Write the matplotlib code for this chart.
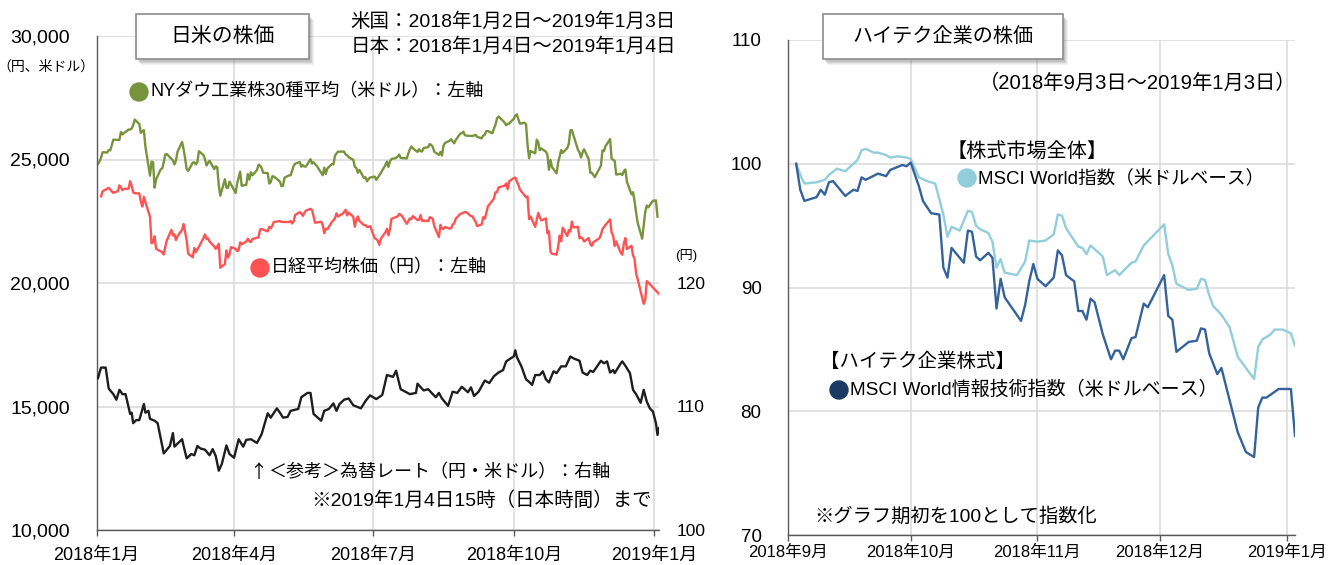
import matplotlib
matplotlib.use("Agg")
import matplotlib.pyplot as plt
from matplotlib.patches import Rectangle, Circle
from matplotlib.ticker import FuncFormatter
import pandas as pd

plt.rcParams['font.family'] = ['Liberation Sans', 'Noto Sans CJK JP']

# ------------------------------
# data: left panel (2018/1 - 2019/1)
# ------------------------------
dow_dates = [
    "2018-01-02", "2018-01-03", "2018-01-04", "2018-01-05", "2018-01-08", "2018-01-09", "2018-01-10", "2018-01-11", "2018-01-12", "2018-01-16", "2018-01-17", "2018-01-18", "2018-01-19", "2018-01-22", "2018-01-23", "2018-01-24", "2018-01-25", "2018-01-26", "2018-01-29", "2018-01-30", "2018-01-31",
    "2018-02-01", "2018-02-02", "2018-02-05", "2018-02-06", "2018-02-07", "2018-02-08", "2018-02-09", "2018-02-12", "2018-02-13", "2018-02-14", "2018-02-15", "2018-02-16", "2018-02-20", "2018-02-21", "2018-02-22", "2018-02-23", "2018-02-26", "2018-02-27", "2018-02-28",
    "2018-03-01", "2018-03-02", "2018-03-05", "2018-03-06", "2018-03-07", "2018-03-08", "2018-03-09", "2018-03-12", "2018-03-13", "2018-03-14", "2018-03-15", "2018-03-16", "2018-03-19", "2018-03-20", "2018-03-21", "2018-03-22", "2018-03-23", "2018-03-26", "2018-03-27", "2018-03-28", "2018-03-29",
    "2018-04-02", "2018-04-03", "2018-04-04", "2018-04-05", "2018-04-06", "2018-04-09", "2018-04-10", "2018-04-11", "2018-04-12", "2018-04-13", "2018-04-16", "2018-04-17", "2018-04-18", "2018-04-19", "2018-04-20", "2018-04-23", "2018-04-24", "2018-04-25", "2018-04-26", "2018-04-27", "2018-04-30",
    "2018-05-01", "2018-05-02", "2018-05-03", "2018-05-04", "2018-05-07", "2018-05-08", "2018-05-09", "2018-05-10", "2018-05-11", "2018-05-14", "2018-05-15", "2018-05-16", "2018-05-17", "2018-05-18", "2018-05-21", "2018-05-22", "2018-05-23", "2018-05-24", "2018-05-25", "2018-05-29", "2018-05-30", "2018-05-31",
    "2018-06-01", "2018-06-04", "2018-06-05", "2018-06-06", "2018-06-07", "2018-06-08", "2018-06-11", "2018-06-12", "2018-06-13", "2018-06-14", "2018-06-15", "2018-06-18", "2018-06-19", "2018-06-20", "2018-06-21", "2018-06-22", "2018-06-25", "2018-06-26", "2018-06-27", "2018-06-28", "2018-06-29",
    "2018-07-02", "2018-07-03", "2018-07-05", "2018-07-06", "2018-07-09", "2018-07-10", "2018-07-11", "2018-07-12", "2018-07-13", "2018-07-16", "2018-07-17", "2018-07-18", "2018-07-19", "2018-07-20", "2018-07-23", "2018-07-24", "2018-07-25", "2018-07-26", "2018-07-27", "2018-07-30", "2018-07-31",
    "2018-08-01", "2018-08-02", "2018-08-03", "2018-08-06", "2018-08-07", "2018-08-08", "2018-08-09", "2018-08-10", "2018-08-13", "2018-08-14", "2018-08-15", "2018-08-16", "2018-08-17", "2018-08-20", "2018-08-21", "2018-08-22", "2018-08-23", "2018-08-24", "2018-08-27", "2018-08-28", "2018-08-29", "2018-08-30", "2018-08-31",
    "2018-09-04", "2018-09-05", "2018-09-06", "2018-09-07", "2018-09-10", "2018-09-11", "2018-09-12", "2018-09-13", "2018-09-14", "2018-09-17", "2018-09-18", "2018-09-19", "2018-09-20", "2018-09-21", "2018-09-24", "2018-09-25", "2018-09-26", "2018-09-27", "2018-09-28",
    "2018-10-01", "2018-10-02", "2018-10-03", "2018-10-04", "2018-10-05", "2018-10-08", "2018-10-09", "2018-10-10", "2018-10-11", "2018-10-12", "2018-10-15", "2018-10-16", "2018-10-17", "2018-10-18", "2018-10-19", "2018-10-22", "2018-10-23", "2018-10-24", "2018-10-25", "2018-10-26", "2018-10-29", "2018-10-30", "2018-10-31",
    "2018-11-01", "2018-11-02", "2018-11-05", "2018-11-06", "2018-11-07", "2018-11-08", "2018-11-09", "2018-11-12", "2018-11-13", "2018-11-14", "2018-11-15", "2018-11-16", "2018-11-19", "2018-11-20", "2018-11-21", "2018-11-23", "2018-11-26", "2018-11-27", "2018-11-28", "2018-11-29", "2018-11-30",
    "2018-12-03", "2018-12-04", "2018-12-06", "2018-12-07", "2018-12-10", "2018-12-11", "2018-12-12", "2018-12-13", "2018-12-14", "2018-12-17", "2018-12-18", "2018-12-19", "2018-12-20", "2018-12-21", "2018-12-24", "2018-12-26", "2018-12-27", "2018-12-28", "2018-12-31",
    "2019-01-02", "2019-01-03",
]
dow_values = [
    24824, 24922, 25075, 25295, 25283, 25385, 25369, 25574, 25803, 25792, 26116, 26017, 26071, 26214, 26210, 26252, 26392, 26617, 26439, 26076, 26149,
    26186, 25521, 24346, 24913, 24893, 23860, 24191, 24601, 24640, 24893, 25201, 25219, 24965, 24798, 24963, 25310, 25710, 25410, 25029,
    24608, 24539, 24875, 24885, 24801, 24896, 25336, 25179, 25008, 24759, 24873, 24947, 24611, 24727, 24683, 23958, 23533, 24203, 23858, 23849, 24103,
    23644, 24034, 24265, 24505, 23933, 23980, 24408, 24190, 24484, 24361, 24573, 24787, 24749, 24665, 24463, 24448, 24025, 24084, 24323, 24311, 24163,
    24100, 23925, 23930, 24263, 24358, 24361, 24543, 24740, 24831, 24900, 24707, 24769, 24714, 24715, 25013, 24835, 24887, 24812, 24753, 24362, 24668, 24416,
    24635, 24814, 24799, 25146, 25241, 25317, 25322, 25320, 25201, 25175, 25090, 24988, 24700, 24657, 24461, 24580, 24252, 24283, 24117, 24216, 24271,
    24307, 24174, 24356, 24456, 24776, 24920, 24700, 24924, 25019, 25064, 25120, 25199, 25065, 25058, 25044, 25241, 25415, 25527, 25451, 25307, 25415,
    25333, 25327, 25463, 25502, 25629, 25584, 25509, 25313, 25188, 25300, 25162, 25559, 25669, 25759, 25822, 25733, 25656, 25790, 26050, 26064, 26125, 25987, 25965,
    25952, 25975, 25996, 25917, 25857, 25971, 25999, 26145, 26155, 26062, 26247, 26405, 26657, 26744, 26562, 26492, 26385, 26440, 26458,
    26651, 26774, 26828, 26627, 26447, 26487, 26430, 25599, 25053, 25340, 25250, 25798, 25707, 25380, 25444, 25317, 25191, 24583, 24985, 24689, 24443, 24875, 25116,
    25381, 25270, 25462, 25635, 26181, 26191, 25989, 25388, 25287, 25081, 25290, 25413, 25018, 24466, 24465, 24286, 24640, 24749, 25366, 25339, 25538,
    25826, 25027, 24947, 24389, 24423, 24370, 24528, 24597, 24100, 23593, 23676, 23324, 22860, 22445, 21792, 22878, 23138, 23062, 23327,
    23346, 22686,
]

nikkei_dates = [
    "2018-01-04", "2018-01-05", "2018-01-09", "2018-01-10", "2018-01-11", "2018-01-12", "2018-01-15", "2018-01-16", "2018-01-17", "2018-01-18", "2018-01-19", "2018-01-22", "2018-01-23", "2018-01-24", "2018-01-25", "2018-01-26", "2018-01-29", "2018-01-30", "2018-01-31",
    "2018-02-01", "2018-02-02", "2018-02-05", "2018-02-06", "2018-02-07", "2018-02-08", "2018-02-09", "2018-02-13", "2018-02-14", "2018-02-15", "2018-02-16", "2018-02-19", "2018-02-20", "2018-02-21", "2018-02-22", "2018-02-23", "2018-02-26", "2018-02-27", "2018-02-28",
    "2018-03-01", "2018-03-02", "2018-03-05", "2018-03-06", "2018-03-07", "2018-03-08", "2018-03-09", "2018-03-12", "2018-03-13", "2018-03-14", "2018-03-15", "2018-03-16", "2018-03-19", "2018-03-20", "2018-03-22", "2018-03-23", "2018-03-26", "2018-03-27", "2018-03-28", "2018-03-29", "2018-03-30",
    "2018-04-02", "2018-04-03", "2018-04-04", "2018-04-05", "2018-04-06", "2018-04-09", "2018-04-10", "2018-04-11", "2018-04-12", "2018-04-13", "2018-04-16", "2018-04-17", "2018-04-18", "2018-04-19", "2018-04-20", "2018-04-23", "2018-04-24", "2018-04-25", "2018-04-26", "2018-04-27",
    "2018-05-01", "2018-05-02", "2018-05-07", "2018-05-08", "2018-05-09", "2018-05-10", "2018-05-11", "2018-05-14", "2018-05-15", "2018-05-16", "2018-05-17", "2018-05-18", "2018-05-21", "2018-05-22", "2018-05-23", "2018-05-24", "2018-05-25", "2018-05-28", "2018-05-29", "2018-05-30", "2018-05-31",
    "2018-06-01", "2018-06-04", "2018-06-05", "2018-06-06", "2018-06-07", "2018-06-08", "2018-06-11", "2018-06-12", "2018-06-13", "2018-06-14", "2018-06-15", "2018-06-18", "2018-06-19", "2018-06-20", "2018-06-21", "2018-06-22", "2018-06-25", "2018-06-26", "2018-06-27", "2018-06-28", "2018-06-29",
    "2018-07-02", "2018-07-03", "2018-07-04", "2018-07-05", "2018-07-06", "2018-07-09", "2018-07-10", "2018-07-11", "2018-07-12", "2018-07-13", "2018-07-17", "2018-07-18", "2018-07-19", "2018-07-20", "2018-07-23", "2018-07-24", "2018-07-25", "2018-07-26", "2018-07-27", "2018-07-30", "2018-07-31",
    "2018-08-01", "2018-08-02", "2018-08-03", "2018-08-06", "2018-08-07", "2018-08-08", "2018-08-09", "2018-08-10", "2018-08-13", "2018-08-14", "2018-08-15", "2018-08-16", "2018-08-17", "2018-08-20", "2018-08-21", "2018-08-22", "2018-08-23", "2018-08-24", "2018-08-27", "2018-08-28", "2018-08-29", "2018-08-30", "2018-08-31",
    "2018-09-03", "2018-09-04", "2018-09-05", "2018-09-06", "2018-09-07", "2018-09-10", "2018-09-11", "2018-09-12", "2018-09-13", "2018-09-14", "2018-09-18", "2018-09-19", "2018-09-20", "2018-09-21", "2018-09-25", "2018-09-26", "2018-09-27", "2018-09-28",
    "2018-10-01", "2018-10-02", "2018-10-03", "2018-10-04", "2018-10-05", "2018-10-09", "2018-10-10", "2018-10-11", "2018-10-12", "2018-10-15", "2018-10-16", "2018-10-17", "2018-10-18", "2018-10-19", "2018-10-22", "2018-10-23", "2018-10-24", "2018-10-25", "2018-10-26", "2018-10-29", "2018-10-30", "2018-10-31",
    "2018-11-01", "2018-11-02", "2018-11-05", "2018-11-06", "2018-11-07", "2018-11-08", "2018-11-09", "2018-11-12", "2018-11-13", "2018-11-14", "2018-11-15", "2018-11-16", "2018-11-19", "2018-11-20", "2018-11-21", "2018-11-22", "2018-11-26", "2018-11-27", "2018-11-28", "2018-11-29", "2018-11-30",
    "2018-12-03", "2018-12-04", "2018-12-05", "2018-12-06", "2018-12-07", "2018-12-10", "2018-12-11", "2018-12-12", "2018-12-13", "2018-12-14", "2018-12-17", "2018-12-18", "2018-12-19", "2018-12-20", "2018-12-21", "2018-12-25", "2018-12-26", "2018-12-27", "2018-12-28",
    "2019-01-04",
]
nikkei_values = [
    23506, 23714, 23850, 23788, 23710, 23653, 23714, 23952, 23868, 23763, 23808, 23816, 24124, 23940, 23669, 23631, 23629, 23291, 23098,
    23486, 23274, 22682, 21610, 21645, 21891, 21383, 21245, 21154, 21464, 21720, 22150, 21925, 21970, 21737, 21893, 22153, 22389, 22068,
    21724, 21182, 21042, 21417, 21253, 21368, 21469, 21824, 21968, 21777, 21803, 21676, 21480, 21380, 21591, 20617, 20766, 21317, 21031, 21159, 21454,
    21388, 21292, 21319, 21645, 21567, 21678, 21794, 21687, 21660, 21778, 21835, 21847, 22158, 22191, 22162, 22088, 22278, 22215, 22319, 22467,
    22508, 22472, 22467, 22508, 22408, 22497, 22758, 22865, 22818, 22717, 22838, 22930, 23002, 22960, 22689, 22437, 22450, 22481, 22358, 22018, 22201,
    22171, 22475, 22539, 22625, 22823, 22694, 22804, 22878, 22966, 22738, 22851, 22680, 22278, 22555, 22693, 22516, 22338, 22342, 22271, 22270, 22304,
    21811, 21785, 21717, 21546, 21788, 22052, 22196, 21932, 22187, 22597, 22697, 22794, 22764, 22698, 22397, 22510, 22614, 22586, 22712, 22544, 22553,
    22746, 22512, 22525, 22507, 22662, 22644, 22598, 22298, 21857, 22356, 22204, 22192, 22270, 22199, 22219, 22362, 22410, 22601, 22799, 22813, 22848, 22869, 22865,
    22707, 22696, 22580, 22487, 22307, 22373, 22664, 22604, 22821, 23094, 23420, 23672, 23674, 23869, 23940, 24033, 23797, 24120,
    24245, 24270, 24110, 23975, 23784, 23469, 23506, 22590, 22694, 22271, 22549, 22841, 22658, 22532, 22614, 22011, 22091, 21268, 21184, 21149, 21457, 21920,
    21687, 22243, 21898, 22147, 22085, 22486, 22250, 22269, 21810, 21846, 21803, 21680, 21821, 21583, 21507, 21646, 21812, 21952, 22177, 22262, 22351,
    22574, 22036, 21919, 21501, 21679, 21219, 21148, 21603, 21816, 21374, 21506, 21115, 20987, 20392, 20166, 19155, 19327, 20077, 20015,
    19561,
]

fx_dates = [
    "2018-01-02", "2018-01-03", "2018-01-04", "2018-01-07", "2018-01-09", "2018-01-12", "2018-01-14", "2018-01-16", "2018-01-18", "2018-01-20", "2018-01-23", "2018-01-24", "2018-01-25", "2018-01-27", "2018-01-29",
    "2018-02-01", "2018-02-02", "2018-02-04", "2018-02-05", "2018-02-08", "2018-02-10", "2018-02-14", "2018-02-16", "2018-02-18", "2018-02-20", "2018-02-21", "2018-02-26", "2018-02-27",
    "2018-03-01", "2018-03-04", "2018-03-06", "2018-03-08", "2018-03-10", "2018-03-13", "2018-03-16", "2018-03-18", "2018-03-20", "2018-03-22", "2018-03-24", "2018-03-27", "2018-03-29",
    "2018-04-01", "2018-04-04", "2018-04-07", "2018-04-09", "2018-04-12", "2018-04-16", "2018-04-19", "2018-04-23", "2018-04-25", "2018-04-29",
    "2018-05-01", "2018-05-03", "2018-05-06", "2018-05-08", "2018-05-13", "2018-05-15", "2018-05-19", "2018-05-21", "2018-05-23", "2018-05-28", "2018-05-30",
    "2018-06-02", "2018-06-05", "2018-06-07", "2018-06-09", "2018-06-12", "2018-06-15", "2018-06-18", "2018-06-23", "2018-06-26", "2018-06-29",
    "2018-07-03", "2018-07-06", "2018-07-07", "2018-07-10", "2018-07-14", "2018-07-16", "2018-07-19", "2018-07-22", "2018-07-25", "2018-07-29", "2018-07-30",
    "2018-08-03", "2018-08-06", "2018-08-09", "2018-08-11", "2018-08-13", "2018-08-15", "2018-08-19", "2018-08-22", "2018-08-25", "2018-08-28",
    "2018-09-01", "2018-09-03", "2018-09-05", "2018-09-08", "2018-09-10", "2018-09-12", "2018-09-15", "2018-09-18", "2018-09-21", "2018-09-24", "2018-09-26", "2018-09-29",
    "2018-10-01", "2018-10-02", "2018-10-03", "2018-10-06", "2018-10-09", "2018-10-11", "2018-10-13", "2018-10-15", "2018-10-18", "2018-10-20", "2018-10-22", "2018-10-24", "2018-10-27", "2018-10-29",
    "2018-11-01", "2018-11-04", "2018-11-07", "2018-11-09", "2018-11-13", "2018-11-15", "2018-11-18", "2018-11-20", "2018-11-22", "2018-11-27", "2018-11-29",
    "2018-12-01", "2018-12-03", "2018-12-05", "2018-12-06", "2018-12-10", "2018-12-11", "2018-12-13", "2018-12-16", "2018-12-18", "2018-12-20", "2018-12-23", "2018-12-25", "2018-12-27", "2018-12-29", "2018-12-31",
    "2019-01-02", "2019-01-03", "2019-01-04",
]
fx_values = [
    112.3, 112.75, 113.15, 113.15, 111.45, 111.0, 110.55, 111.35, 111.0, 111.0, 109.4, 109.5, 108.65, 108.9, 108.9,
    110.2, 109.5, 109.65, 109.0, 108.85, 108.65, 106.2, 106.5, 106.8, 107.85, 106.75, 107.35, 106.8,
    105.8, 106.15, 106.05, 106.8, 106.6, 106.5, 106.05, 106.55, 106.0, 104.8, 105.35, 106.85, 106.15,
    105.85, 107.35, 106.75, 107.3, 107.35, 107.05, 107.75, 109.45, 109.1, 109.85,
    109.5, 109.1, 109.15, 109.65, 109.8, 110.75, 111.1, 111.1, 109.4, 108.85, 109.65,
    109.8, 110.25, 109.65, 110.2, 110.55, 110.65, 110.1, 109.85, 110.45, 110.9,
    110.6, 110.85, 110.95, 112.55, 112.4, 112.9, 111.4, 111.2, 111.0, 111.1, 111.85,
    111.3, 111.4, 111.0, 110.75, 111.1, 110.65, 110.05, 111.2, 111.1, 111.6,
    111.15, 111.55, 110.85, 111.2, 111.65, 112.1, 111.9, 112.45, 112.75, 112.95, 113.65, 113.9,
    114.05, 114.55, 114.0, 113.25, 112.2, 112.0, 111.75, 112.55, 112.55, 112.85, 112.2, 111.95, 112.85, 112.7,
    113.25, 113.25, 114.05, 113.9, 113.7, 112.75, 112.55, 112.9, 112.8, 113.7, 113.5,
    113.65, 112.75, 112.95, 112.7, 113.5, 113.65, 113.3, 112.7, 111.35, 111.0, 110.3, 111.35, 110.4, 109.85, 109.6,
    108.65, 107.7, 108.25,
]

left_ticks = ["2018-01-01", "2018-04-01", "2018-07-01", "2018-10-01", "2019-01-01"]
left_tick_labels = ["2018年1月", "2018年4月", "2018年7月", "2018年10月", "2019年1月"]

# ------------------------------
# data: right panel (2018/9/3 = 100)
# ------------------------------
world_dates = [
    "2018-09-03", "2018-09-04", "2018-09-05", "2018-09-08", "2018-09-10", "2018-09-11", "2018-09-13", "2018-09-15", "2018-09-17", "2018-09-18", "2018-09-19", "2018-09-20", "2018-09-22", "2018-09-23", "2018-09-25", "2018-09-26", "2018-09-28", "2018-09-30",
    "2018-10-01", "2018-10-03", "2018-10-05", "2018-10-07", "2018-10-09", "2018-10-10", "2018-10-11", "2018-10-13", "2018-10-15", "2018-10-16", "2018-10-17", "2018-10-18", "2018-10-20", "2018-10-21", "2018-10-22", "2018-10-23", "2018-10-24", "2018-10-27", "2018-10-29", "2018-10-30",
    "2018-11-01", "2018-11-03", "2018-11-05", "2018-11-06", "2018-11-07", "2018-11-08", "2018-11-11", "2018-11-12", "2018-11-13", "2018-11-14", "2018-11-17", "2018-11-18", "2018-11-20", "2018-11-21", "2018-11-24", "2018-11-25", "2018-11-27",
    "2018-12-02", "2018-12-03", "2018-12-04", "2018-12-05", "2018-12-08", "2018-12-10", "2018-12-11", "2018-12-12", "2018-12-13", "2018-12-14", "2018-12-16", "2018-12-18", "2018-12-20", "2018-12-24", "2018-12-25", "2018-12-26", "2018-12-28", "2018-12-29", "2018-12-31",
    "2019-01-02", "2019-01-03",
]
world_values = [
    100.0, 99.1, 98.4, 98.5, 98.7, 99.1, 99.6, 99.4, 100.0, 100.3, 101.1, 101.2, 100.9, 100.9, 100.7, 100.5, 100.6, 100.5,
    100.4, 98.9, 98.6, 98.4, 95.9, 94.1, 94.9, 94.6, 96.2, 96.1, 95.0, 94.7, 94.4, 93.7, 91.6, 92.3, 91.2, 91.0, 92.1, 93.8,
    93.7, 93.8, 94.3, 95.9, 95.8, 94.8, 93.3, 93.2, 92.7, 93.4, 92.5, 91.0, 91.4, 91.0, 92.0, 92.1, 93.4,
    95.1, 92.7, 91.8, 90.3, 89.8, 89.9, 90.7, 90.6, 89.4, 88.5, 87.8, 86.8, 84.4, 82.6, 85.2, 85.8, 86.2, 86.6, 86.6,
    86.3, 85.3,
]

it_dates = [
    "2018-09-03", "2018-09-04", "2018-09-05", "2018-09-08", "2018-09-09", "2018-09-10", "2018-09-11", "2018-09-12", "2018-09-15", "2018-09-17", "2018-09-18", "2018-09-19", "2018-09-20", "2018-09-23", "2018-09-25", "2018-09-26", "2018-09-29", "2018-09-30",
    "2018-10-01", "2018-10-03", "2018-10-04", "2018-10-06", "2018-10-08", "2018-10-09", "2018-10-10", "2018-10-11", "2018-10-14", "2018-10-15", "2018-10-16", "2018-10-17", "2018-10-18", "2018-10-20", "2018-10-21", "2018-10-22", "2018-10-23", "2018-10-24", "2018-10-28", "2018-10-29", "2018-10-30", "2018-10-31",
    "2018-11-01", "2018-11-03", "2018-11-05", "2018-11-06", "2018-11-07", "2018-11-08", "2018-11-10", "2018-11-11", "2018-11-12", "2018-11-13", "2018-11-14", "2018-11-15", "2018-11-17", "2018-11-19", "2018-11-20", "2018-11-21", "2018-11-22", "2018-11-24", "2018-11-25", "2018-11-27", "2018-11-28",
    "2018-12-02", "2018-12-03", "2018-12-04", "2018-12-05", "2018-12-08", "2018-12-10", "2018-12-11", "2018-12-12", "2018-12-13", "2018-12-15", "2018-12-16", "2018-12-20", "2018-12-22", "2018-12-24", "2018-12-25", "2018-12-26", "2018-12-27", "2018-12-30",
    "2019-01-02", "2019-01-03",
]
it_values = [
    100.0, 97.9, 97.0, 97.3, 97.9, 97.5, 98.5, 98.6, 97.4, 97.9, 97.8, 98.9, 98.7, 99.2, 99.0, 99.5, 99.9, 99.8,
    100.1, 98.2, 97.0, 96.0, 95.9, 91.6, 90.8, 93.2, 92.0, 94.6, 94.5, 92.5, 92.2, 92.8, 92.4, 88.3, 90.7, 89.2, 87.3, 88.6, 90.5, 91.9,
    90.7, 90.1, 90.8, 93.0, 92.6, 91.0, 90.5, 88.1, 88.1, 87.4, 89.1, 88.8, 86.2, 84.2, 84.9, 84.9, 84.2, 85.9, 86.0, 88.7, 88.4,
    91.0, 87.7, 87.4, 84.8, 85.6, 85.7, 86.7, 86.6, 84.7, 83.0, 83.5, 78.3, 76.7, 76.3, 80.3, 81.1, 81.1, 81.8,
    81.8, 78.0,
]

right_ticks = ["2018-09-01", "2018-10-01", "2018-11-01", "2018-12-01", "2019-01-01"]
right_tick_labels = ["2018年9月", "2018年10月", "2018年11月", "2018年12月", "2019年1月"]

# colours
GREEN = "#77933C"
RED = "#FF5252"
BLACK = "#1E1E1E"
LIGHT = "#92CDDC"
NAVY_LINE = "#34629B"
NAVY_DOT = "#1B3A63"
GRID = "#D9D9D9"
SPINE = "#595959"

W, H = 1332, 565
fig = plt.figure(figsize=(W / 100, H / 100), dpi=100)
INCH = fig.dpi_scale_trans


def P(x, y):
    # picture pixels (top-left origin) -> inches for dpi_scale_trans
    return x / 100, (H - y) / 100


def axes_px(x0, y0, x1, y1):
    return fig.add_axes([x0 / W, 1 - y1 / H, (x1 - x0) / W, (y1 - y0) / H])


def put(x, y, s, size, ha="left", va="center", color="#000000", family=None):
    kw = {"family": family} if family else {}
    fig.text(*P(x, y), s, transform=INCH, fontsize=size, ha=ha, va=va, color=color, **kw)


def dot(cx, cy, color, r=9):
    fig.add_artist(Circle(P(cx, cy), r / 100, transform=INCH, color=color))


def title_box(x0, y0, x1, y1, s, size):
    # soft drop shadow
    for k, a in enumerate([0.10, 0.12, 0.16, 0.20]):
        off = 6 - k
        fig.add_artist(Rectangle(P(x0 + off - 1, y1 + off), (x1 - x0) / 100, (y1 - y0) / 100,
                                 transform=INCH, facecolor="#808080", edgecolor="none", alpha=a))
    fig.add_artist(Rectangle(P(x0, y1), (x1 - x0) / 100, (y1 - y0) / 100, transform=INCH,
                             facecolor="white", edgecolor="#8C8C8C", linewidth=1.2))
    put((x0 + x1) / 2, (y0 + y1) / 2, s, size, ha="center")


def style(ax, ticks, labels, xfs, yfs, xpad):
    for s in ["top", "right"]:
        ax.spines[s].set_visible(False)
    for s in ["left", "bottom"]:
        ax.spines[s].set_color(SPINE)
        ax.spines[s].set_linewidth(1.0)
    ax.grid(True, color=GRID, linewidth=1.1)
    ax.set_axisbelow(True)
    ax.set_xticks(pd.to_datetime(ticks))
    ax.set_xticklabels(labels)
    ax.tick_params(axis="x", length=4, width=1, color=SPINE, pad=xpad, labelsize=xfs)
    ax.tick_params(axis="y", length=0, pad=19, labelsize=yfs)


# ------------------------------
# left panel
# ------------------------------
ax1 = axes_px(96.5, 36, 659, 530)
ax1.plot(pd.to_datetime(dow_dates), dow_values, color=GREEN, lw=1.7)
ax1.plot(pd.to_datetime(nikkei_dates), nikkei_values, color=RED, lw=1.7)
ax1.set_ylim(10000, 30000)
ax1.set_yticks([10000, 15000, 20000, 25000, 30000])
ax1.yaxis.set_major_formatter(FuncFormatter(lambda v, p: f"{v:,.0f}"))
ax1.set_xlim(pd.Timestamp("2018-01-01"), pd.Timestamp("2019-01-04"))
style(ax1, left_ticks, left_tick_labels, 13, 14, 8)

ax1r = ax1.twinx()
ax1r.plot(pd.to_datetime(fx_dates), fx_values, color=BLACK, lw=1.7)
ax1r.set_ylim(100, 140)
ax1r.set_yticks([100, 110, 120])
ax1r.tick_params(axis="y", length=0, pad=13, labelsize=12.5)
for s in ax1r.spines.values():
    s.set_visible(False)
ax1r.set_xlim(pd.Timestamp("2018-01-01"), pd.Timestamp("2019-01-04"))

# ------------------------------
# right panel
# ------------------------------
ax2 = axes_px(788, 40, 1295, 535)
ax2.plot(pd.to_datetime(world_dates), world_values, color=LIGHT, lw=1.7)
ax2.plot(pd.to_datetime(it_dates), it_values, color=NAVY_LINE, lw=1.7)
ax2.set_ylim(70, 110)
ax2.set_yticks([70, 80, 90, 100, 110])
ax2.set_xlim(pd.Timestamp("2018-09-01"), pd.Timestamp("2019-01-03"))
style(ax2, right_ticks, right_tick_labels, 12, 13.5, 3)

# ------------------------------
# annotations
# ------------------------------
title_box(136, 14, 309, 59, "日米の株価", 15)
title_box(823, 14, 1063, 59, "ハイテク企業の株価", 14.5)

put(676, 22, "米国：2018年1月2日～2019年1月3日", 14, ha="right")
put(676, 47, "日本：2018年1月4日～2019年1月4日", 14, ha="right")
put(46, 67, "（円、米ドル）", 10, ha="center")
put(686, 256, "(円)", 9.5, ha="center")

dot(139, 92, GREEN)
put(150, 92, "NYダウ工業株30種平均（米ドル）：左軸", 13)
dot(260, 268, RED)
put(271, 268, "日経平均株価（円）：左軸", 13)
put(267, 473, "↑", 13, ha="right", family=["Noto Sans CJK JP"])
put(268, 473, "＜参考＞為替レート（円・米ドル）：右軸", 13)
put(652, 501, "※2019年1月4日15時（日本時間）まで", 14, ha="right")

put(1296, 83, "（2018年9月3日～2019年1月3日）", 14.6, ha="right")
put(947, 151, "【株式市場全体】", 14.5)
dot(967, 178, LIGHT)
put(978, 178, "MSCI World指数（米ドルベース）", 13.4)
put(820, 362, "【ハイテク企業株式】", 14)
dot(839, 390, NAVY_DOT)
put(850, 390, "MSCI World情報技術指数（米ドルベース）", 13.7)
put(814, 517, "※グラフ期初を100として指数化", 13.9)

fig.savefig("out.png", dpi=100, facecolor="white")
